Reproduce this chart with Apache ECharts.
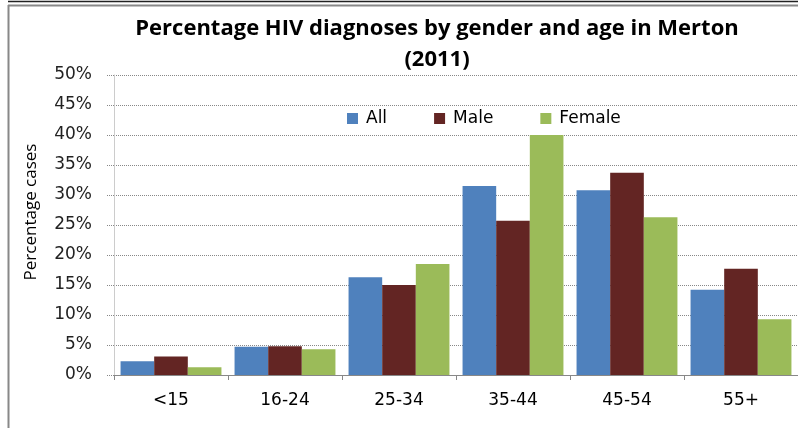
<!DOCTYPE html>
<html><head><meta charset="utf-8">
<script src="https://cdn.jsdelivr.net/npm/echarts@6/dist/echarts.min.js"></script>
<style>html,body{margin:0;padding:0;background:#fff}#c{width:798px;height:428px}</style>
</head><body><div id="c"></div>
<script>
var categories = ['<15','16-24','25-34','35-44','45-54','55+'];
var allValues = [2.3, 4.7, 16.3, 31.5, 30.8, 14.2];
var maleValues = [3.1, 4.8, 15.0, 25.7, 33.7, 17.7];
var femaleValues = [1.3, 4.3, 18.5, 40.0, 26.3, 9.3];
var seriesNames = ['All','Male','Female'];
var colors = ['#4F81BD','#632523','#9BBB59'];

var chart = echarts.init(document.getElementById('c'));
var vals = [allValues, maleValues, femaleValues];
chart.setOption({
  animation: false,
  color: colors,
  title: {
    text: 'Percentage HIV diagnoses by gender and age in Merton\n(2011)',
    left: 432, top: 8, textAlign: 'center',
    textStyle: {fontFamily: 'Open Sans', fontWeight: 'bold', fontSize: 22, color: '#000', lineHeight: 31}
  },
  legend: {
    data: seriesNames, left: 347, top: 110, itemWidth: 11, itemHeight: 11, itemGap: 47,
    icon: 'rect', padding: 0,
    textStyle: {fontFamily: 'DejaVu Sans', fontSize: 17, color: '#000', padding: [0,0,0,3]}
  },
  grid: {left: 114, top: 75, width: 685, height: 300, containLabel: false},
  xAxis: {
    type: 'category', data: categories,
    axisLine: {lineStyle: {color: '#888', width: 1}},
    axisTick: {show: true, length: 5, lineStyle: {color: '#888'}},
    axisLabel: {fontFamily: 'DejaVu Sans', fontSize: 17, color: '#000', margin: 17}
  },
  yAxis: {
    type: 'value', min: 0, max: 50, interval: 5,
    name: 'Percentage cases', nameLocation: 'middle', nameGap: 74, nameRotate: 90,
    nameTextStyle: {fontFamily: 'Open Sans', fontSize: 17, color: '#000', padding: [0,0,0,26]},
    axisLine: {show: true, lineStyle: {color: '#ccc'}},
    axisTick: {show: true, length: 7, lineStyle: {color: '#888', type: 'dotted'}},
    axisLabel: {fontFamily: 'DejaVu Sans', fontSize: 17, color: '#222', margin: 22,
      formatter: function(v){return v + '%';}},
    splitLine: {lineStyle: {color: '#888', type: 'dotted'}}
  },
  graphic: [
    {type: 'line', shape: {x1: 8, y1: 1.5, x2: 798, y2: 1.5}, style: {stroke: '#222', lineWidth: 1.5}},
    {type: 'line', shape: {x1: 8, y1: 5.5, x2: 798, y2: 5.5}, style: {stroke: '#888', lineWidth: 2}},
    {type: 'line', shape: {x1: 8.5, y1: 5, x2: 8.5, y2: 428}, style: {stroke: '#888', lineWidth: 2}}
  ],
  series: seriesNames.map(function(n, i){
    return {name: n, type: 'bar', data: vals[i], barGap: '0%', barCategoryGap: '11.5%'};
  })
});
</script></body></html>
